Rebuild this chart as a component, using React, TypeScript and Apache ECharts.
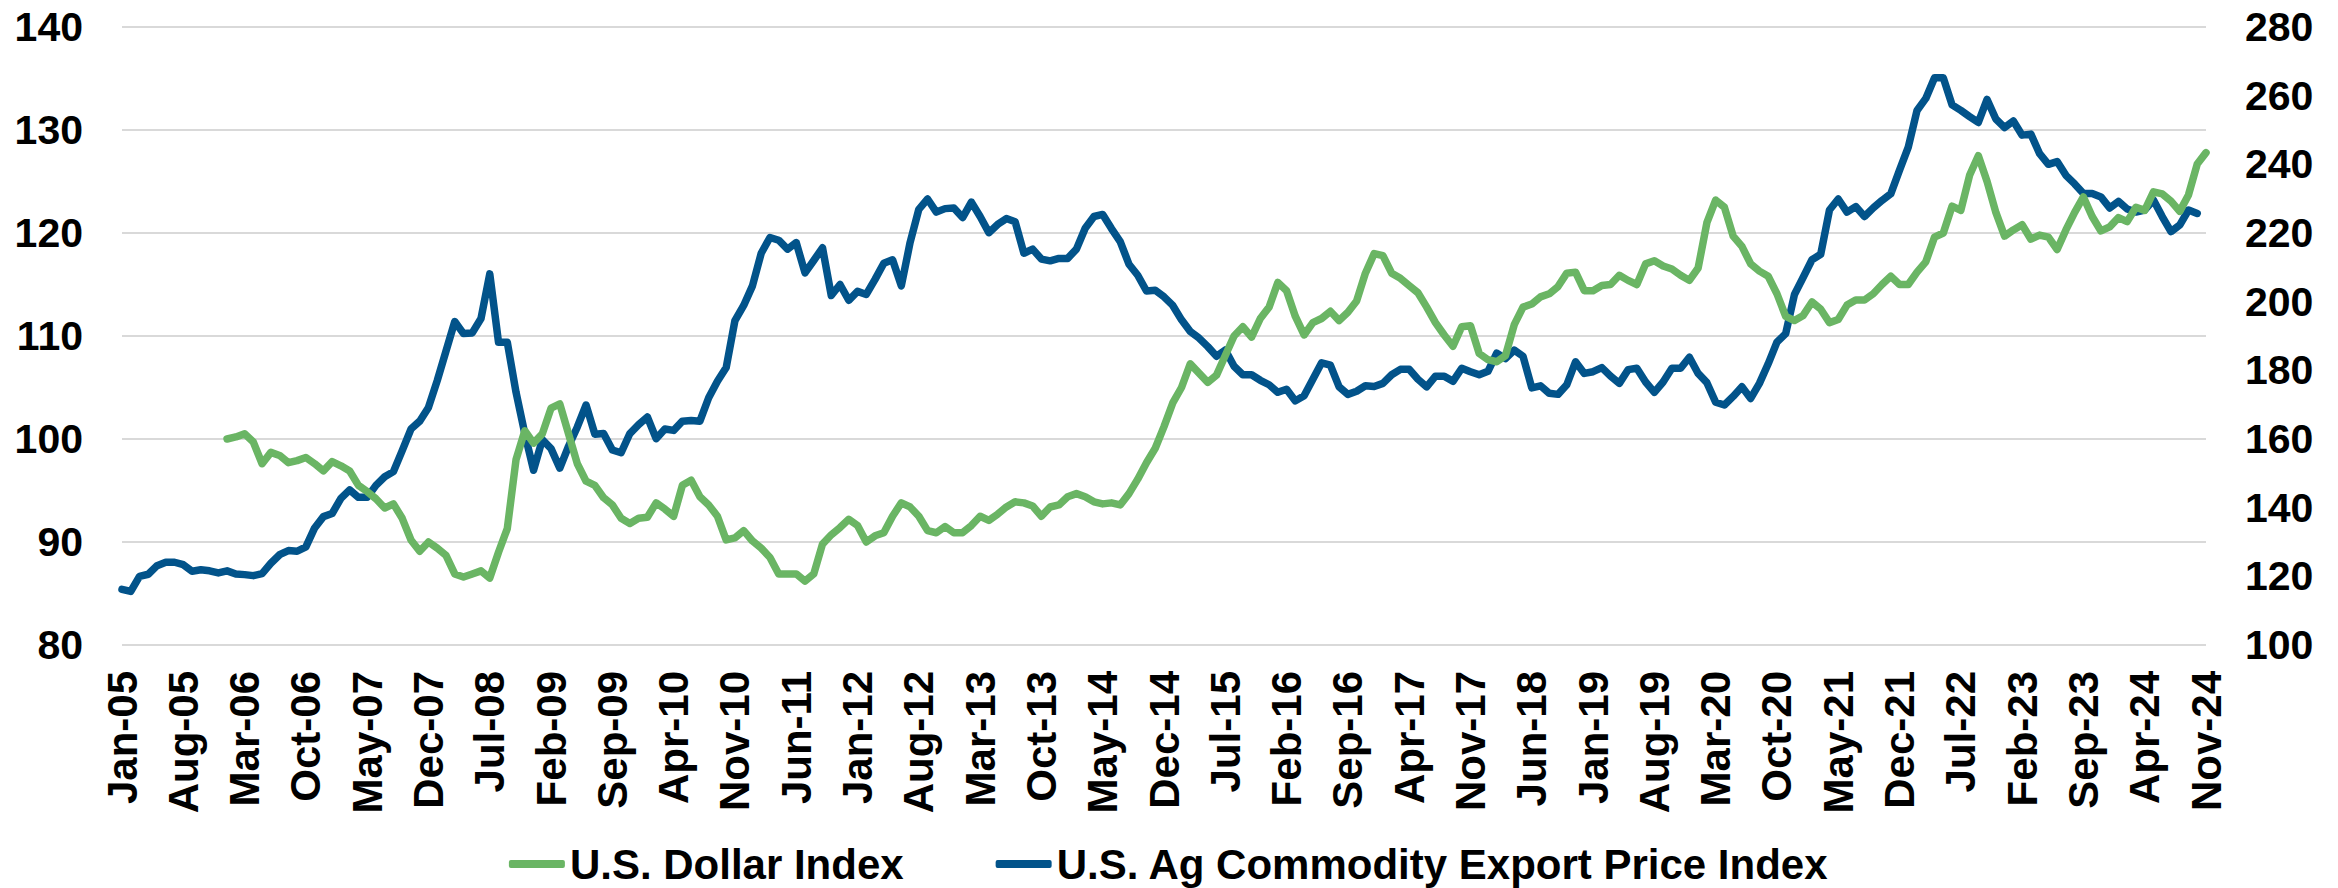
import React, { useEffect, useRef } from "react";
import * as echarts from "echarts";

// ---------- data ----------
const MONTH_NAMES = ["Jan", "Feb", "Mar", "Apr", "May", "Jun", "Jul", "Aug", "Sep", "Oct", "Nov", "Dec"];
const FIRST_YEAR_2D = 5; // 2005
const MONTH_COUNT = 239; // Jan-05 .. Nov-24
const categories: string[] = [];
for (let k = 0; k < MONTH_COUNT; k++) {
  const yy = FIRST_YEAR_2D + Math.floor(k / 12);
  categories.push(`${MONTH_NAMES[k % 12]}-${yy < 10 ? "0" + yy : yy}`);
}

// U.S. Dollar Index (left axis), starts Jan-06
const dollarIndex: (number | null)[] = [
  null, null, null, null, null, null, null, null, null, null, null, null,
  100.0, 100.2, 100.5, 99.7, 97.6, 98.7, 98.4, 97.7,
  97.9, 98.2, 97.6, 96.9, 97.8, 97.4, 96.9, 95.5, 94.9, 94.2,
  93.3, 93.7, 92.3, 90.2, 89.1, 90.0, 89.4, 88.7, 86.9, 86.6,
  86.9, 87.2, 86.5, 89.0, 91.3, 98.0, 100.8, 99.6, 100.5, 103.0,
  103.4, 100.5, 97.6, 95.9, 95.5, 94.3, 93.6, 92.3, 91.8, 92.3,
  92.4, 93.8, 93.2, 92.5, 95.5, 96.0, 94.4, 93.6, 92.5, 90.2,
  90.4, 91.1, 90.1, 89.4, 88.5, 86.9, 86.9, 86.9, 86.2, 86.9,
  89.8, 90.7, 91.4, 92.2, 91.6, 90.0, 90.6, 90.9, 92.5, 93.8,
  93.4, 92.5, 91.1, 90.9, 91.5, 90.9, 90.9, 91.6, 92.5, 92.1,
  92.7, 93.4, 93.9, 93.8, 93.5, 92.5, 93.4, 93.6, 94.4, 94.7,
  94.4, 93.9, 93.7, 93.8, 93.6, 94.7, 96.1, 97.7, 99.1, 101.2,
  103.5, 105.0, 107.3, 106.4, 105.5, 106.2, 108.1, 110.0, 110.9, 109.9,
  111.7, 112.8, 115.2, 114.4, 111.9, 110.1, 111.3, 111.7, 112.4, 111.5,
  112.3, 113.4, 116.1, 118.0, 117.8, 116.1, 115.6, 114.9, 114.2, 112.8,
  111.3, 110.1, 109.0, 110.9, 111.0, 108.3, 107.7, 107.5, 108.1, 111.1,
  112.8, 113.1, 113.8, 114.1, 114.8, 116.1, 116.2, 114.4, 114.4, 114.9,
  115.0, 115.9, 115.4, 115.0, 117.0, 117.3, 116.8, 116.5, 115.9, 115.4,
  116.6, 121.0, 123.2, 122.5, 119.7, 118.7, 117.0, 116.3, 115.8, 114.1,
  111.9, 111.5, 112.0, 113.3, 112.6, 111.3, 111.6, 113.0, 113.5, 113.5,
  114.1, 115.0, 115.8, 115.0, 115.0, 116.2, 117.2, 119.6, 120.0, 122.6,
  122.2, 125.6, 127.5, 125.0, 122.0, 119.7, 120.3, 120.8, 119.4, 119.8,
  119.6, 118.4, 120.3, 122.0, 123.5, 121.6, 120.2, 120.6, 121.5, 121.1,
  122.5, 122.2, 124.0, 123.8, 123.1, 122.1, 123.7, 126.7, 127.8,
];

// U.S. Ag Commodity Export Price Index (right axis), ends Oct-24
const agExportPriceIndex: (number | null)[] = [
  116.2, 115.6, 120.0, 120.6, 123.1, 124.1, 124.1, 123.4, 121.5, 121.9,
  121.6, 121.0, 121.6, 120.7, 120.5, 120.2, 120.8, 123.8, 126.3, 127.5,
  127.3, 128.6, 134.1, 137.4, 138.3, 142.7, 145.2, 143.0, 143.0, 146.5,
  149.0, 150.5, 156.6, 162.9, 165.2, 169.2, 177.0, 185.6, 194.2, 190.7,
  190.9, 195.1, 208.1, 188.2, 188.2, 173.6, 161.6, 150.9, 159.8, 157.2,
  151.5, 157.9, 163.5, 169.9, 161.4, 161.6, 156.8, 156.0, 161.6, 164.2,
  166.4, 160.1, 162.9, 162.5, 165.2, 165.4, 165.2, 172.0, 176.8, 180.8,
  194.5, 198.9, 204.6, 214.1, 218.7, 217.9, 215.3, 217.2, 208.4, 212.0,
  215.7, 201.8, 205.0, 200.4, 203.0, 202.1, 206.5, 211.2, 212.2, 204.6,
  217.2, 226.9, 229.9, 226.1, 227.1, 227.3, 224.5, 229.0, 224.8, 220.1,
  222.5, 224.2, 223.3, 214.1, 215.3, 212.4, 211.9, 212.6, 212.6, 215.3,
  221.4, 224.8, 225.4, 221.3, 217.5, 210.9, 207.7, 203.1, 203.3, 201.4,
  198.9, 194.7, 191.3, 189.4, 186.9, 184.1, 185.9, 181.2, 178.7, 178.7,
  177.1, 175.8, 173.6, 174.5, 171.1, 172.6, 177.4, 182.2, 181.5, 175.2,
  173.0, 173.9, 175.5, 175.3, 176.2, 178.7, 180.3, 180.3, 177.4, 175.2,
  178.3, 178.3, 176.8, 180.6, 179.6, 178.7, 179.7, 185.0, 183.4, 185.9,
  184.1, 174.9, 175.5, 173.3, 173.0, 175.8, 182.5, 179.1, 179.6, 180.8,
  178.3, 176.2, 180.2, 180.6, 176.6, 173.6, 176.6, 180.6, 180.6, 183.8,
  179.1, 176.4, 170.7, 169.9, 172.4, 175.2, 171.8, 176.2, 181.9, 188.2,
  190.7, 202.1, 207.1, 212.2, 213.8, 226.7, 229.9, 226.1, 227.7, 224.8,
  227.3, 229.5, 231.4, 238.3, 245.0, 255.7, 259.2, 265.2, 265.2, 257.3,
  255.7, 253.9, 252.2, 258.9, 253.2, 250.7, 252.6, 248.5, 248.8, 243.1,
  240.0, 240.8, 236.8, 234.3, 231.5, 231.5, 230.5, 227.3, 229.2, 227.0,
  226.1, 226.7, 229.6, 224.8, 220.4, 222.3, 226.7, 225.7, null,
];

const SERIES_NAMES = ["U.S. Dollar Index", "U.S. Ag Commodity Export Price Index"];
const LEFT_AXIS = { min: 80, max: 140, interval: 10 };
const RIGHT_AXIS = { min: 100, max: 280, interval: 20 };

// ---------- style ----------
const FONT = "'Liberation Sans', Arial, Helvetica, sans-serif";
const GREEN = "#6AB564";
const BLUE = "#02538A";

export default function App() {
  const ref = useRef<HTMLDivElement>(null);

  useEffect(() => {
    if (!ref.current) return;
    const chart = echarts.init(ref.current, undefined, { renderer: "svg" });
    const axisLabelBase = {
      fontFamily: FONT,
      fontWeight: "bold" as const,
      color: "#000",
    };
    chart.setOption({
      animation: false,
      backgroundColor: "#ffffff",
      grid: { left: 122, right: 132, top: 27, bottom: 243, containLabel: false },
      legend: {
        left: "center",
        top: 843,
        padding: 0,
        icon: "roundRect",
        itemWidth: 56,
        itemHeight: 8,
        itemGap: 92,
        data: SERIES_NAMES,
        textStyle: { ...axisLabelBase, fontSize: 42, lineHeight: 42 },
      },
      xAxis: {
        type: "category",
        data: categories,
        boundaryGap: false,
        axisLine: { show: false },
        axisTick: { show: false },
        splitLine: { show: false },
        axisLabel: { ...axisLabelBase, fontSize: 42, rotate: 90, interval: 6, margin: 26 },
      },
      yAxis: [
        {
          type: "value",
          position: "left",
          min: LEFT_AXIS.min,
          max: LEFT_AXIS.max,
          interval: LEFT_AXIS.interval,
          axisLine: { show: false },
          axisTick: { show: false },
          splitLine: { show: true, lineStyle: { color: "#D9D9D9", width: 2 } },
          axisLabel: { ...axisLabelBase, fontSize: 41, margin: 39 },
        },
        {
          type: "value",
          position: "right",
          min: RIGHT_AXIS.min,
          max: RIGHT_AXIS.max,
          interval: RIGHT_AXIS.interval,
          axisLine: { show: false },
          axisTick: { show: false },
          splitLine: { show: false },
          axisLabel: { ...axisLabelBase, fontSize: 41, margin: 39 },
        },
      ],
      series: [
        {
          name: SERIES_NAMES[1],
          type: "line",
          yAxisIndex: 1,
          data: agExportPriceIndex,
          symbol: "none",
          showSymbol: false,
          z: 2,
          itemStyle: { color: BLUE },
          lineStyle: { color: BLUE, width: 7.5, join: "round", cap: "round" },
        },
        {
          name: SERIES_NAMES[0],
          type: "line",
          yAxisIndex: 0,
          data: dollarIndex,
          symbol: "none",
          showSymbol: false,
          z: 3,
          itemStyle: { color: GREEN },
          lineStyle: { color: GREEN, width: 7.5, join: "round", cap: "round" },
        },
      ],
    });
    return () => chart.dispose();
  }, []);

  return (
    <div
      ref={ref}
      style={{ position: "absolute", left: 0, top: 0, width: 2338, height: 888, background: "#fff" }}
    />
  );
}
